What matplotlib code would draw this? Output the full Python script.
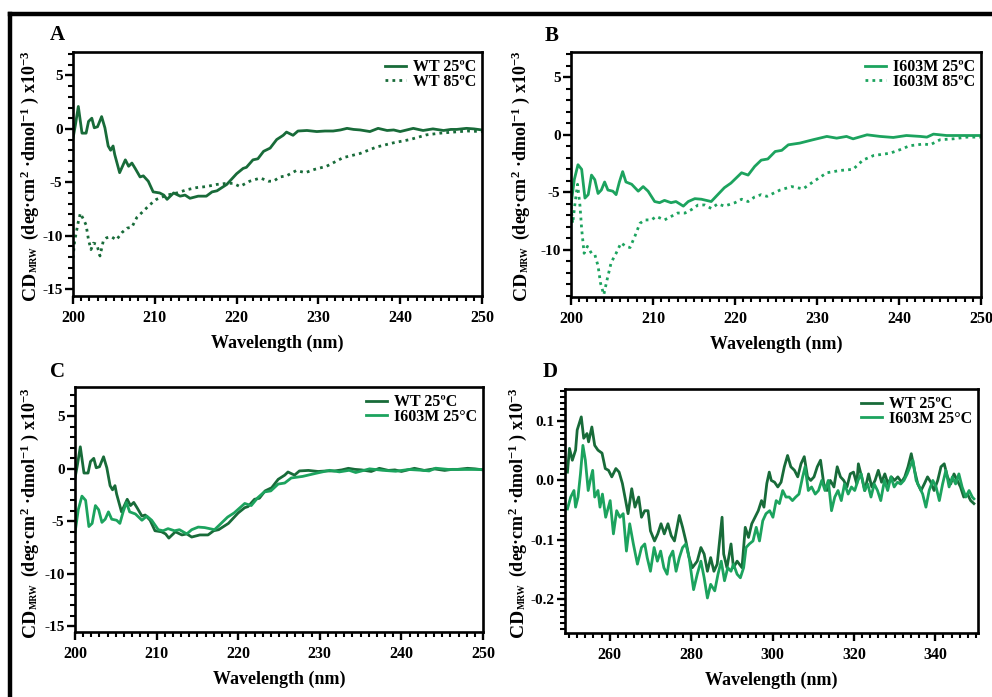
import matplotlib
matplotlib.use("Agg")
import matplotlib.pyplot as plt
from matplotlib.ticker import MultipleLocator, FormatStrFormatter
from matplotlib.lines import Line2D

plt.rcParams['font.family'] = ['Liberation Serif', 'DejaVu Serif']
plt.rcParams['font.weight'] = 'bold'
plt.rcParams['axes.unicode_minus'] = False
plt.rcParams['mathtext.fontset'] = 'custom'
plt.rcParams['mathtext.rm'] = 'Liberation Serif:bold'
plt.rcParams['mathtext.it'] = 'Liberation Serif:bold'
plt.rcParams['mathtext.bf'] = 'Liberation Serif:bold'

# ---------------- data (far-UV, 200-250 nm) ----------------
wt25_x = [200.0, 200.3, 200.65, 201.1, 201.6, 201.9, 202.3, 202.6, 203.0, 203.5, 203.9, 204.3,
          204.6, 204.9, 205.1, 205.7, 206.4, 206.8, 207.2, 207.6, 208.2, 208.6, 209.2, 209.8,
          210.6, 211.1, 211.5, 212.3, 213.1, 213.7, 214.3, 215.3, 216.3, 217.0, 217.6, 218.8,
          220.0, 220.8, 221.2, 222.0, 222.6, 223.3, 224.1, 224.9, 225.7, 226.1, 226.9, 227.5,
          228.6, 229.8, 230.8, 231.8, 232.7, 233.5, 234.3, 235.1, 236.3, 237.3, 238.4, 239.2,
          240.0, 241.6, 242.8, 244.0, 245.3, 246.2, 246.9, 248.1, 249.0, 250.0]
wt25_y = [-0.9, 0.4, 2.1, -0.4, -0.4, 0.7, 1.0, 0.1, 0.2, 1.15, 0.1, -1.6,
          -2.0, -1.6, -2.4, -4.1, -2.9, -3.5, -3.2, -3.7, -4.5, -4.4, -4.9, -5.9,
          -6.0, -6.2, -6.6, -6.0, -6.3, -6.2, -6.5, -6.3, -6.3, -5.9, -5.8, -5.2,
          -4.2, -3.7, -3.6, -2.9, -2.8, -2.1, -1.8, -1.0, -0.6, -0.3, -0.6, -0.2,
          -0.15, -0.25, -0.2, -0.2, -0.1, 0.05, -0.05, -0.1, -0.25, 0.05, -0.15, -0.1,
          -0.25, 0.05, -0.15, 0.0, -0.15, -0.05, -0.05, 0.05, 0.0, -0.1]

wt85_x = [200.0, 200.2, 200.65, 200.9, 201.3, 201.6, 201.9, 202.2, 202.5, 202.9, 203.3, 203.7,
          204.1, 204.7, 205.3, 206.0, 206.6, 207.2, 207.8, 208.6, 209.4, 210.2, 211.5, 212.7,
          213.9, 215.1, 216.3, 217.6, 218.8, 219.6, 220.4, 221.6, 222.9, 223.9, 224.5, 225.3,
          226.1, 227.3, 228.4, 229.5, 231.0, 233.0, 235.1, 237.1, 239.2, 241.2, 243.2, 244.9,
          246.5, 248.2, 250.0]
wt85_y = [-12.1, -10.5, -8.7, -7.9, -8.5, -9.0, -10.4, -11.3, -10.7, -10.8, -11.9, -10.5,
          -10.2, -10.1, -10.4, -9.7, -9.3, -9.2, -8.3, -7.7, -7.1, -6.6, -6.2, -6.0,
          -5.7, -5.5, -5.4, -5.2, -5.1, -5.1, -5.4, -4.9, -4.6, -4.9, -4.9, -4.5,
          -4.4, -3.9, -4.1, -3.8, -3.5, -2.7, -2.3, -1.7, -1.3, -1.0, -0.56, -0.4,
          -0.3, -0.2, -0.25]

mut25_x = [200.0, 200.4, 200.85, 201.3, 201.7, 202.1, 202.5, 202.9, 203.3, 203.7, 204.1, 204.5,
           205.1, 205.5, 205.9, 206.3, 206.7, 207.4, 207.8, 208.2, 208.8, 209.4, 210.2, 210.8,
           211.4, 212.2, 212.8, 213.7, 214.3, 215.1, 215.9, 217.1, 217.9, 218.7, 219.5, 220.8,
           221.6, 222.4, 223.2, 224.0, 224.9, 225.7, 226.5, 227.9, 229.5, 231.2, 232.4, 233.6,
           234.4, 236.1, 237.7, 239.3, 240.9, 242.6, 243.4, 244.2, 245.8, 247.4, 250.0]
mut25_y = [-6.1, -3.9, -2.6, -3.0, -5.5, -5.2, -3.5, -3.9, -5.1, -4.8, -4.1, -4.8,
           -4.9, -5.2, -4.1, -3.2, -4.1, -4.3, -4.6, -4.9, -4.5, -4.9, -5.8, -5.9,
           -5.7, -5.9, -5.8, -6.2, -5.8, -5.55, -5.6, -5.8, -5.2, -4.6, -4.2, -3.3,
           -3.5, -2.75, -2.2, -2.1, -1.45, -1.35, -0.87, -0.72, -0.43, -0.14, -0.29, -0.14,
           -0.35, 0.0, -0.14, -0.23, -0.06, -0.14, -0.2, 0.06, -0.06, -0.06, -0.06]

mut85_x = [200.0, 200.2, 200.5, 200.8, 201.1, 201.3, 201.6, 202.0, 202.5, 202.9, 203.3, 203.6,
           204.0, 204.4, 204.9, 205.5, 206.1, 206.7, 207.2, 207.8, 208.4, 209.0, 209.8, 210.4,
           211.4, 212.2, 213.0, 213.9, 214.7, 215.5, 216.3, 217.1, 217.9, 218.7, 220.0, 220.8,
           221.6, 222.4, 223.2, 223.9, 225.5, 226.9, 228.3, 229.5, 231.2, 232.8, 234.4, 235.6,
           236.9, 238.9, 240.1, 241.3, 243.0, 243.8, 245.0, 246.6, 248.3, 250.0]
mut85_y = [-6.2, -7.7, -5.9, -4.3, -6.2, -8.2, -10.3, -9.7, -10.3, -10.4, -11.4, -12.9,
           -13.9, -12.6, -11.1, -10.3, -9.4, -9.7, -9.8, -8.8, -7.7, -7.4, -7.4, -7.1,
           -7.4, -7.1, -6.8, -6.8, -6.5, -6.1, -6.1, -6.4, -6.0, -6.2, -5.9, -5.6,
           -5.8, -5.4, -5.2, -5.35, -4.8, -4.5, -4.7, -4.1, -3.3, -3.1, -3.0, -2.2,
           -1.8, -1.6, -1.3, -0.95, -0.8, -0.87, -0.43, -0.35, -0.2, -0.2]

# ---------------- data (near-UV, 250-350 nm) ----------------
wtD_x = [249.6, 250.1, 250.8, 251.6, 252.0, 253.0, 253.6, 254.4, 254.8, 255.6, 256.3, 257.1,
         258.1, 258.9, 259.7, 260.5, 261.5, 262.3, 263.1, 263.9, 264.5, 265.4, 266.2, 267.1,
         267.8, 268.6, 269.4, 270.0, 271.0, 271.8, 272.6, 273.4, 274.3, 275.1, 275.9, 277.1,
         277.9, 278.7, 279.5, 280.3, 281.5, 282.4, 283.2, 284.0, 284.8, 285.6, 286.4, 287.6,
         288.0, 288.8, 289.8, 290.4, 291.3, 292.5, 293.3, 294.1, 294.9, 295.7, 296.5, 297.3,
         297.9, 298.6, 299.2, 299.7, 300.5, 301.3, 302.1, 302.9, 303.7, 304.5, 305.4, 306.2,
         307.0, 307.8, 308.6, 309.4, 310.2, 311.0, 311.8, 312.6, 313.4, 314.2, 315.1, 315.9,
         316.7, 317.5, 318.3, 319.1, 319.9, 320.7, 321.1, 321.9, 322.7, 323.6, 324.4, 325.2,
         326.0, 326.8, 327.6, 328.4, 329.2, 330.0, 330.8, 331.7, 332.5, 333.3, 334.1, 334.9,
         335.7, 336.5, 337.3, 338.1, 338.9, 339.7, 340.6, 341.4, 342.2, 343.0, 343.8, 344.6,
         345.4, 346.2, 347.0, 347.9, 348.7, 349.5]
wtD_y = [0.014, 0.054, 0.034, 0.051, 0.085, 0.107, 0.071, 0.079, 0.065, 0.090, 0.059, 0.051,
         0.046, 0.020, 0.017, 0.006, 0.020, 0.014, -0.005, -0.034, -0.056, -0.014, -0.045, -0.028,
         -0.062, -0.051, -0.051, -0.085, -0.102, -0.090, -0.073, -0.090, -0.073, -0.093, -0.102, -0.059,
         -0.079, -0.102, -0.130, -0.147, -0.136, -0.113, -0.124, -0.153, -0.130, -0.153, -0.141, -0.062,
         -0.124, -0.147, -0.107, -0.147, -0.136, -0.147, -0.079, -0.096, -0.073, -0.062, -0.051, -0.034,
         -0.045, -0.005, 0.014, 0.0, -0.003, -0.011, -0.003, 0.023, 0.042, 0.023, 0.017, 0.006,
         0.028, 0.040, 0.006, 0.0, 0.006, 0.023, 0.034, -0.006, -0.017, 0.0, -0.011, 0.023,
         0.006, 0.0, -0.011, 0.011, 0.014, -0.006, 0.028, 0.006, -0.017, 0.011, -0.011, 0.0,
         0.017, -0.003, 0.011, -0.006, 0.006, 0.0, 0.006, -0.003, 0.006, 0.023, 0.045, 0.017,
         -0.006, -0.017, -0.006, 0.006, -0.003, -0.017, 0.0, 0.023, 0.028, 0.006, -0.006, 0.011,
         0.0, -0.011, -0.028, -0.023, -0.034, -0.039]

mutD_x = [249.6, 250.4, 251.2, 251.6, 252.2, 252.8, 253.4, 254.0, 254.7, 255.2, 255.8, 256.3,
          257.1, 257.6, 258.2, 259.0, 260.1, 260.9, 261.7, 262.5, 263.3, 264.1, 264.9, 265.8,
          266.8, 267.8, 268.6, 269.2, 270.0, 270.9, 271.7, 272.5, 273.3, 274.1, 274.7, 275.5,
          276.3, 277.1, 277.9, 278.7, 279.5, 280.6, 281.5, 282.4, 283.2, 284.0, 284.8, 285.8,
          286.6, 287.4, 288.2, 289.0, 289.8, 290.4, 291.3, 292.1, 292.9, 293.5, 294.3, 295.2,
          296.0, 296.8, 297.6, 298.4, 299.3, 300.1, 300.9, 301.7, 302.5, 303.3, 304.1, 304.9,
          305.7, 306.5, 307.4, 308.0, 308.8, 309.6, 310.5, 311.3, 312.1, 312.9, 313.7, 314.5,
          315.3, 316.1, 316.9, 317.7, 318.6, 319.4, 320.2, 321.0, 321.8, 322.6, 323.4, 324.2,
          325.0, 325.8, 326.6, 327.5, 328.3, 329.1, 329.9, 330.7, 331.5, 332.3, 333.1, 333.9,
          334.5, 335.3, 336.1, 336.9, 337.7, 338.5, 339.4, 340.2, 341.0, 341.8, 342.6, 343.4,
          344.2, 345.0, 345.8, 346.6, 347.5, 348.3, 349.1, 349.5]
mutD_y = [-0.048, -0.028, -0.017, -0.045, -0.028, 0.011, 0.059, 0.034, -0.017, 0.0, 0.017, -0.028,
          -0.017, -0.045, -0.023, -0.062, -0.034, -0.090, -0.051, -0.062, -0.056, -0.119, -0.073, -0.107,
          -0.141, -0.113, -0.107, -0.130, -0.153, -0.113, -0.136, -0.119, -0.147, -0.158, -0.130, -0.119,
          -0.153, -0.130, -0.113, -0.107, -0.130, -0.184, -0.158, -0.136, -0.164, -0.198, -0.175, -0.186,
          -0.158, -0.136, -0.169, -0.147, -0.153, -0.141, -0.158, -0.164, -0.147, -0.113, -0.107, -0.102,
          -0.079, -0.102, -0.068, -0.056, -0.051, -0.062, -0.034, -0.039, -0.017, -0.028, -0.028, -0.034,
          -0.028, -0.023, 0.006, 0.023, -0.017, -0.011, -0.023, -0.017, 0.0, -0.017, 0.0, -0.051,
          -0.028, -0.017, -0.034, -0.006, -0.023, -0.011, -0.017, 0.0, 0.011, -0.017, -0.006, -0.028,
          -0.006, -0.017, -0.034, 0.0, -0.017, 0.006, -0.011, -0.003, -0.006, 0.0, 0.011, 0.025,
          0.034, 0.0, -0.011, -0.023, -0.045, -0.017, 0.0, -0.011, -0.034, -0.006, 0.017, -0.011,
          0.006, -0.006, 0.011, -0.011, -0.028, -0.017, -0.028, -0.031]

lab_wt25 = "WT 25ºC"
lab_wt85 = "WT 85ºC"
lab_mut25 = "I603M 25ºC"
lab_mut85 = "I603M 85ºC"
lab_mut25b = "I603M 25°C"

# ---------------- style ----------------
W, H = 992, 697
C_WT = '#186b39'
C_MUT = '#1ca35e'
LW = 2.0
DOT = (0, (1.0, 1.5))

fig = plt.figure(figsize=(W / 100, H / 100), dpi=100)


def add_axes(l, t, r, b):
    return fig.add_axes([l / W, 1 - b / H, (r - l) / W, (b - t) / H])


def style(ax, xlim, ylim, xmaj, xmin, ymaj, ymin, yfmt):
    ax.set_xlim(*xlim)
    ax.set_ylim(*ylim)
    ax.xaxis.set_major_locator(MultipleLocator(xmaj))
    ax.xaxis.set_minor_locator(MultipleLocator(xmin))
    ax.yaxis.set_major_locator(MultipleLocator(ymaj))
    ax.yaxis.set_minor_locator(MultipleLocator(ymin))
    ax.yaxis.set_major_formatter(FormatStrFormatter(yfmt))
    for s in ax.spines.values():
        s.set_linewidth(1.9)
    ax.tick_params(which='major', direction='out', length=6, width=1.7,
                   labelsize=11.5, pad=2)
    ax.tick_params(axis='y', which='major', labelsize=11, pad=1.5)
    ax.tick_params(axis='x', which='major', pad=4)
    ax.tick_params(which='minor', direction='out', length=3.5, width=1.5)
    ax.tick_params(top=False, right=False, which='both')
    for lab in ax.get_xticklabels() + ax.get_yticklabels():
        lab.set_fontweight('bold')
    ax.set_xlabel('Wavelength (nm)', fontsize=13, fontweight='bold', labelpad=6)


def ylab(xb, yb):
    # xb: baseline x (px), yb: bottom start (px)
    fig.text(xb / W, 1 - yb / H, 'CD', rotation=90, rotation_mode='anchor',
             ha='left', va='baseline', fontsize=14, fontweight='bold')
    fig.text((xb + 2) / W, 1 - (yb - 28) / H, 'MRW', rotation=90, rotation_mode='anchor',
             ha='left', va='baseline', fontsize=7, fontweight='bold')
    fig.text(xb / W, 1 - (yb - 60) / H,
             '(deg·cm$^{2}$ ·dmol$^{-1}$ ) x10$^{-3}$', rotation=90,
             rotation_mode='anchor', ha='left', va='baseline', fontsize=13, fontweight='bold')


def legend(ax, bx, by):
    leg = ax.legend(loc='upper right', bbox_to_anchor=(bx, by), frameon=False,
                    fontsize=11.5, handlelength=1.35, handletextpad=0.4,
                    labelspacing=-0.1, borderpad=0, borderaxespad=0)
    for t in leg.get_texts():
        t.set_fontweight('bold')


# Panel A
axA = add_axes(73, 52, 482, 296)
axA.plot(wt25_x, wt25_y, color=C_WT, lw=LW, label=lab_wt25)
axA.plot(wt85_x, wt85_y, color=C_WT, lw=2.0, ls=DOT, label=lab_wt85)
style(axA, (200, 250), (-15.65, 7.2), 10, 1, 5, 1, '%d')
legend(axA, 0.985, 0.97)

# Panel B
axB = add_axes(571, 52, 981, 297)
axB.plot(mut25_x, mut25_y, color=C_MUT, lw=LW, label=lab_mut25)
axB.plot(mut85_x, mut85_y, color=C_MUT, lw=2.0, ls=DOT, label=lab_mut85)
style(axB, (200, 250), (-14.1, 7.2), 10, 1, 5, 1, '%d')
legend(axB, 0.985, 0.97)

# Panel C
axC = add_axes(75, 387, 483, 632)
axC.plot(wt25_x, wt25_y, color=C_WT, lw=LW, label=lab_wt25)
axC.plot(mut25_x, mut25_y, color=C_MUT, lw=LW, label=lab_mut25b)
style(axC, (200, 250), (-15.55, 7.8), 10, 1, 5, 1, '%d')
legend(axC, 0.985, 0.97)

# Panel D
axD = add_axes(565, 389, 978, 633)
axD.plot(wtD_x, wtD_y, color=C_WT, lw=LW, label=lab_wt25)
axD.plot(mutD_x, mutD_y, color=C_MUT, lw=LW, label=lab_mut25b)
style(axD, (249, 350.5), (-0.257, 0.154), 20, 2, 0.1, 0.01, '%.1f')
legend(axD, 0.985, 0.97)

ylab(35, 300)
ylab(526, 300)
ylab(35, 637)
ylab(523, 637)

for txt, x, y in [('A', 50, 40), ('B', 545, 41), ('C', 50, 377), ('D', 543, 377)]:
    fig.text(x / W, 1 - y / H, txt, fontsize=15, fontweight='bold', ha='left', va='baseline')

# black outer frame (clipped at right and bottom)
fig.add_artist(Line2D([10 / W, 10 / W], [0, 1 - 14 / H], color='black', lw=3.2,
                      transform=fig.transFigure, solid_capstyle='projecting'))
fig.add_artist(Line2D([10 / W, 1.0], [1 - 14 / H, 1 - 14 / H], color='black', lw=3.2,
                      transform=fig.transFigure, solid_capstyle='projecting'))

fig.savefig('out.png', dpi=100)
